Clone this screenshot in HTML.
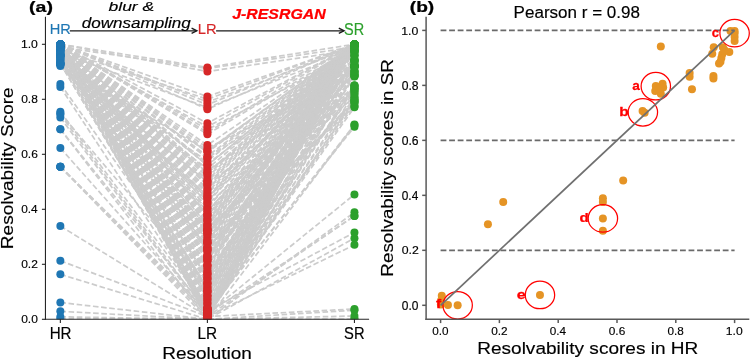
<!DOCTYPE html>
<html><head><meta charset="utf-8"><style>html,body{margin:0;padding:0;background:#fff;width:750px;height:359px;overflow:hidden}</style></head>
<body><svg width="750" height="359" viewBox="0 0 750 359" style="display:block;will-change:transform">
<rect width="750" height="359" fill="#fff"/>
<defs><clipPath id="cl"><rect x="45.45" y="16.7" width="323.6" height="302.6"/></clipPath><clipPath id="cr"><rect x="426" y="16.7" width="324" height="302.5"/></clipPath></defs>
<g clip-path="url(#cl)" fill="none" stroke="#cccccc" stroke-width="1.7" stroke-dasharray="5.6 2.6">
<polyline points="60.35,316.82 207.40,319.30 354.45,310.23"/>
<polyline points="60.35,318.75 207.40,319.30 354.45,316.00"/>
<polyline points="60.35,311.32 207.40,319.30 354.45,319.30"/>
<polyline points="60.35,302.53 207.40,319.30 354.45,319.30"/>
<polyline points="60.35,274.34 207.40,319.30 354.45,238.18"/>
<polyline points="60.35,260.73 207.40,316.55 354.45,215.90"/>
<polyline points="60.35,226.07 207.40,316.55 354.45,308.99"/>
<polyline points="60.35,166.68 207.40,319.30 354.45,212.32"/>
<polyline points="60.35,166.68 207.40,313.80 354.45,215.90"/>
<polyline points="60.35,166.68 207.40,311.05 354.45,232.40"/>
<polyline points="60.35,166.68 207.40,316.55 354.45,244.78"/>
<polyline points="60.35,147.98 207.40,313.80 354.45,194.45"/>
<polyline points="60.35,129.28 207.40,319.30 354.45,124.88"/>
<polyline points="60.35,129.28 207.40,311.05 354.45,126.80"/>
<polyline points="60.35,117.45 207.40,316.55 354.45,100.68"/>
<polyline points="60.35,111.68 207.40,308.30 354.45,97.38"/>
<polyline points="60.35,114.43 207.40,313.80 354.45,107.28"/>
<polyline points="60.35,113.33 207.40,286.30 354.45,60.53"/>
<polyline points="60.35,86.93 207.40,311.05 354.45,86.38"/>
<polyline points="60.35,83.90 207.40,291.80 354.45,91.33"/>
<polyline points="60.35,64.10 207.40,195.55 354.45,88.85"/>
<polyline points="60.35,64.10 207.40,181.80 354.45,93.80"/>
<polyline points="60.35,44.30 207.40,319.30 354.45,44.30"/>
<polyline points="60.35,44.30 207.40,318.01 354.45,44.30"/>
<polyline points="60.35,44.30 207.40,316.61 354.45,44.30"/>
<polyline points="60.35,44.30 207.40,314.25 354.45,44.30"/>
<polyline points="60.35,44.30 207.40,311.86 354.45,44.30"/>
<polyline points="60.35,44.30 207.40,309.04 354.45,44.30"/>
<polyline points="60.35,44.30 207.40,309.14 354.45,44.30"/>
<polyline points="60.35,44.30 207.40,307.19 354.45,44.30"/>
<polyline points="60.35,44.30 207.40,304.66 354.45,44.30"/>
<polyline points="60.35,44.30 207.40,303.08 354.45,44.30"/>
<polyline points="60.35,44.30 207.40,300.36 354.45,44.30"/>
<polyline points="60.35,44.30 207.40,298.98 354.45,44.30"/>
<polyline points="60.35,44.30 207.40,296.20 354.45,44.30"/>
<polyline points="60.35,56.40 207.40,295.14 354.45,44.30"/>
<polyline points="60.35,52.55 207.40,292.56 354.45,55.30"/>
<polyline points="60.35,44.30 207.40,291.71 354.45,44.30"/>
<polyline points="60.35,44.30 207.40,290.12 354.45,44.30"/>
<polyline points="60.35,44.30 207.40,288.38 354.45,44.30"/>
<polyline points="60.35,58.05 207.40,287.15 354.45,44.30"/>
<polyline points="60.35,44.30 207.40,284.06 354.45,44.30"/>
<polyline points="60.35,44.30 207.40,283.37 354.45,44.30"/>
<polyline points="60.35,44.30 207.40,281.55 354.45,44.30"/>
<polyline points="60.35,44.30 207.40,279.17 354.45,47.05"/>
<polyline points="60.35,47.05 207.40,277.71 354.45,44.30"/>
<polyline points="60.35,44.30 207.40,276.01 354.45,44.30"/>
<polyline points="60.35,44.30 207.40,273.33 354.45,74.55"/>
<polyline points="60.35,44.30 207.40,271.67 354.45,66.30"/>
<polyline points="60.35,44.30 207.40,270.54 354.45,44.30"/>
<polyline points="60.35,44.30 207.40,266.73 354.45,44.30"/>
<polyline points="60.35,44.30 207.40,265.33 354.45,60.53"/>
<polyline points="60.35,44.30 207.40,264.82 354.45,44.30"/>
<polyline points="60.35,44.30 207.40,261.14 354.45,44.30"/>
<polyline points="60.35,44.30 207.40,260.67 354.45,44.30"/>
<polyline points="60.35,44.30 207.40,259.39 354.45,44.30"/>
<polyline points="60.35,44.30 207.40,256.69 354.45,44.30"/>
<polyline points="60.35,44.30 207.40,255.72 354.45,44.30"/>
<polyline points="60.35,44.30 207.40,252.16 354.45,71.80"/>
<polyline points="60.35,44.30 207.40,250.13 354.45,44.30"/>
<polyline points="60.35,62.18 207.40,250.30 354.45,63.82"/>
<polyline points="60.35,44.30 207.40,247.42 354.45,44.30"/>
<polyline points="60.35,44.30 207.40,246.64 354.45,44.30"/>
<polyline points="60.35,44.30 207.40,243.38 354.45,44.30"/>
<polyline points="60.35,44.30 207.40,242.16 354.45,44.30"/>
<polyline points="60.35,44.30 207.40,241.12 354.45,44.30"/>
<polyline points="60.35,44.30 207.40,239.15 354.45,44.30"/>
<polyline points="60.35,44.30 207.40,237.26 354.45,44.30"/>
<polyline points="60.35,44.30 207.40,235.36 354.45,44.30"/>
<polyline points="60.35,44.30 207.40,233.21 354.45,58.05"/>
<polyline points="60.35,44.30 207.40,231.02 354.45,44.30"/>
<polyline points="60.35,44.30 207.40,229.36 354.45,44.30"/>
<polyline points="60.35,66.03 207.40,226.19 354.45,44.30"/>
<polyline points="60.35,44.30 207.40,224.88 354.45,44.30"/>
<polyline points="60.35,44.30 207.40,223.55 354.45,44.30"/>
<polyline points="60.35,44.30 207.40,221.70 354.45,44.30"/>
<polyline points="60.35,55.30 207.40,219.68 354.45,50.07"/>
<polyline points="60.35,44.30 207.40,217.89 354.45,44.30"/>
<polyline points="60.35,44.30 207.40,216.06 354.45,44.30"/>
<polyline points="60.35,44.30 207.40,214.66 354.45,44.30"/>
<polyline points="60.35,49.80 207.40,213.31 354.45,44.30"/>
<polyline points="60.35,44.30 207.40,211.61 354.45,44.30"/>
<polyline points="60.35,44.30 207.40,207.71 354.45,44.30"/>
<polyline points="60.35,44.30 207.40,207.72 354.45,44.30"/>
<polyline points="60.35,44.30 207.40,204.41 354.45,76.20"/>
<polyline points="60.35,51.18 207.40,202.83 354.45,44.30"/>
<polyline points="60.35,44.30 207.40,201.37 354.45,44.30"/>
<polyline points="60.35,44.30 207.40,198.63 354.45,44.30"/>
<polyline points="60.35,63.55 207.40,197.95 354.45,44.30"/>
<polyline points="60.35,44.30 207.40,196.60 354.45,44.30"/>
<polyline points="60.35,44.30 207.40,193.72 354.45,52.55"/>
<polyline points="60.35,44.30 207.40,192.09 354.45,44.30"/>
<polyline points="60.35,44.30 207.40,189.73 354.45,44.30"/>
<polyline points="60.35,44.30 207.40,188.79 354.45,44.30"/>
<polyline points="60.35,44.30 207.40,185.65 354.45,67.12"/>
<polyline points="60.35,55.58 207.40,184.76 354.45,44.30"/>
<polyline points="60.35,44.30 207.40,183.48 354.45,44.30"/>
<polyline points="60.35,44.30 207.40,181.28 354.45,44.30"/>
<polyline points="60.35,44.30 207.40,179.77 354.45,44.30"/>
<polyline points="60.35,44.30 207.40,177.09 354.45,44.30"/>
<polyline points="60.35,44.30 207.40,174.87 354.45,44.30"/>
<polyline points="60.35,44.30 207.40,173.14 354.45,44.30"/>
<polyline points="60.35,53.93 207.40,172.51 354.45,44.30"/>
<polyline points="60.35,44.30 207.40,170.64 354.45,69.60"/>
<polyline points="60.35,59.43 207.40,168.78 354.45,44.30"/>
<polyline points="60.35,44.30 207.40,165.40 354.45,44.30"/>
<polyline points="60.35,48.43 207.40,165.12 354.45,44.30"/>
<polyline points="60.35,44.30 207.40,163.44 354.45,59.70"/>
<polyline points="60.35,60.80 207.40,161.12 354.45,44.30"/>
<polyline points="60.35,44.30 207.40,158.08 354.45,44.30"/>
<polyline points="60.35,44.30 207.40,158.12 354.45,63.55"/>
<polyline points="60.35,44.30 207.40,156.22 354.45,44.30"/>
<polyline points="60.35,44.30 207.40,152.37 354.45,44.30"/>
<polyline points="60.35,64.93 207.40,150.87 354.45,44.30"/>
<polyline points="60.35,44.30 207.40,150.59 354.45,44.30"/>
<polyline points="60.35,44.30 207.40,147.96 354.45,76.48"/>
<polyline points="60.35,44.30 207.40,145.11 354.45,44.30"/>
<polyline points="60.35,44.30 207.40,67.40 354.45,44.30"/>
<polyline points="60.35,47.05 207.40,68.50 354.45,47.05"/>
<polyline points="60.35,44.30 207.40,71.53 354.45,49.80"/>
<polyline points="60.35,44.30 207.40,96.55 354.45,44.30"/>
<polyline points="60.35,49.80 207.40,99.30 354.45,44.30"/>
<polyline points="60.35,44.30 207.40,102.05 354.45,47.05"/>
<polyline points="60.35,44.30 207.40,104.80 354.45,44.30"/>
<polyline points="60.35,52.55 207.40,107.55 354.45,49.80"/>
<polyline points="60.35,44.30 207.40,109.20 354.45,44.30"/>
<polyline points="60.35,44.30 207.40,123.23 354.45,44.30"/>
<polyline points="60.35,47.05 207.40,126.80 354.45,44.30"/>
<polyline points="60.35,44.30 207.40,129.55 354.45,52.55"/>
<polyline points="60.35,44.30 207.40,132.30 354.45,44.30"/>
<polyline points="60.35,44.30 207.40,134.22 354.45,47.05"/>
<polyline points="60.35,44.30 207.40,259.35 354.45,99.30"/>
<polyline points="60.35,49.80 207.40,247.90 354.45,102.05"/>
<polyline points="60.35,44.30 207.40,242.76 354.45,106.18"/>
<polyline points="60.35,55.30 207.40,228.59 354.45,85.55"/>
<polyline points="60.35,44.30 207.40,248.08 354.45,91.05"/>
<polyline points="60.35,64.10 207.40,230.53 354.45,89.68"/>
<polyline points="60.35,58.05 207.40,316.51 354.45,75.93"/>
<polyline points="60.35,44.30 207.40,274.48 354.45,85.55"/>
<polyline points="60.35,47.05 207.40,228.50 354.45,96.55"/>
<polyline points="60.35,44.30 207.40,256.84 354.45,102.05"/>
<polyline points="60.35,63.55 207.40,232.59 354.45,88.30"/>
<polyline points="60.35,55.30 207.40,308.40 354.45,74.55"/>
<polyline points="60.35,44.30 207.40,313.17 354.45,66.30"/>
<polyline points="60.35,55.30 207.40,308.89 354.45,55.30"/>
<polyline points="60.35,44.30 207.40,302.83 354.45,71.80"/>
<polyline points="60.35,49.80 207.40,298.85 354.45,47.05"/>
<polyline points="60.35,44.30 207.40,295.50 354.45,44.30"/>
<polyline points="60.35,49.80 207.40,290.34 354.45,66.30"/>
<polyline points="60.35,44.30 207.40,283.30 354.45,50.90"/>
<polyline points="60.35,47.05 207.40,278.58 354.45,66.30"/>
<polyline points="60.35,44.30 207.40,273.86 354.45,60.80"/>
<polyline points="60.35,55.30 207.40,268.52 354.45,44.30"/>
<polyline points="60.35,44.30 207.40,265.18 354.45,44.30"/>
<polyline points="60.35,44.30 207.40,258.04 354.45,44.30"/>
<polyline points="60.35,44.30 207.40,255.20 354.45,71.80"/>
<polyline points="60.35,55.30 207.40,249.44 354.45,60.80"/>
<polyline points="60.35,44.30 207.40,243.59 354.45,47.05"/>
<polyline points="60.35,47.05 207.40,240.56 354.45,50.90"/>
<polyline points="60.35,44.30 207.40,233.61 354.45,50.90"/>
<polyline points="60.35,55.30 207.40,230.45 354.45,44.30"/>
<polyline points="60.35,47.05 207.40,225.22 354.45,66.30"/>
<polyline points="60.35,44.30 207.40,219.94 354.45,66.30"/>
<polyline points="60.35,47.05 207.40,214.88 354.45,66.30"/>
<polyline points="60.35,47.05 207.40,210.07 354.45,66.30"/>
<polyline points="60.35,44.30 207.40,313.03 354.45,124.60"/>
<polyline points="60.35,55.30 207.40,312.35 354.45,104.80"/>
<polyline points="60.35,63.55 207.40,310.31 354.45,102.05"/>
<polyline points="60.35,44.30 207.40,316.25 354.45,99.30"/>
<polyline points="60.35,52.55 207.40,312.13 354.45,93.80"/>
<polyline points="60.35,44.30 207.40,309.50 354.45,88.30"/>
<polyline points="60.35,49.80 207.40,309.30 354.45,85.55"/>
<polyline points="60.35,47.05 207.40,317.25 354.45,74.55"/>
<polyline points="60.35,44.30 207.40,312.13 354.45,71.80"/>
<polyline points="60.35,60.80 207.40,312.51 354.45,66.30"/>
<polyline points="60.35,44.30 207.40,313.76 354.45,60.80"/>
<polyline points="60.35,47.05 207.40,308.67 354.45,55.30"/>
<polyline points="60.35,58.05 207.40,313.49 354.45,49.80"/>
<polyline points="60.35,44.30 207.40,314.40 354.45,44.30"/>
<polyline points="60.35,63.55 207.40,308.92 354.45,44.30"/>
<polyline points="60.35,44.30 207.40,312.31 354.45,45.68"/>
</g>
<g clip-path="url(#cl)">
<circle cx="60.35" cy="316.82" r="4" fill="#1f77b4"/>
<circle cx="60.35" cy="318.75" r="4" fill="#1f77b4"/>
<circle cx="60.35" cy="311.32" r="4" fill="#1f77b4"/>
<circle cx="60.35" cy="302.53" r="4" fill="#1f77b4"/>
<circle cx="60.35" cy="274.34" r="4" fill="#1f77b4"/>
<circle cx="60.35" cy="260.73" r="4" fill="#1f77b4"/>
<circle cx="60.35" cy="226.07" r="4" fill="#1f77b4"/>
<circle cx="60.35" cy="166.68" r="4" fill="#1f77b4"/>
<circle cx="60.35" cy="166.68" r="4" fill="#1f77b4"/>
<circle cx="60.35" cy="166.68" r="4" fill="#1f77b4"/>
<circle cx="60.35" cy="166.68" r="4" fill="#1f77b4"/>
<circle cx="60.35" cy="147.98" r="4" fill="#1f77b4"/>
<circle cx="60.35" cy="129.28" r="4" fill="#1f77b4"/>
<circle cx="60.35" cy="129.28" r="4" fill="#1f77b4"/>
<circle cx="60.35" cy="117.45" r="4" fill="#1f77b4"/>
<circle cx="60.35" cy="111.68" r="4" fill="#1f77b4"/>
<circle cx="60.35" cy="114.43" r="4" fill="#1f77b4"/>
<circle cx="60.35" cy="113.33" r="4" fill="#1f77b4"/>
<circle cx="60.35" cy="86.93" r="4" fill="#1f77b4"/>
<circle cx="60.35" cy="83.90" r="4" fill="#1f77b4"/>
<circle cx="60.35" cy="64.10" r="4" fill="#1f77b4"/>
<circle cx="60.35" cy="64.10" r="4" fill="#1f77b4"/>
<circle cx="60.35" cy="44.30" r="4" fill="#1f77b4"/>
<circle cx="60.35" cy="44.30" r="4" fill="#1f77b4"/>
<circle cx="60.35" cy="44.30" r="4" fill="#1f77b4"/>
<circle cx="60.35" cy="44.30" r="4" fill="#1f77b4"/>
<circle cx="60.35" cy="44.30" r="4" fill="#1f77b4"/>
<circle cx="60.35" cy="44.30" r="4" fill="#1f77b4"/>
<circle cx="60.35" cy="44.30" r="4" fill="#1f77b4"/>
<circle cx="60.35" cy="44.30" r="4" fill="#1f77b4"/>
<circle cx="60.35" cy="44.30" r="4" fill="#1f77b4"/>
<circle cx="60.35" cy="44.30" r="4" fill="#1f77b4"/>
<circle cx="60.35" cy="44.30" r="4" fill="#1f77b4"/>
<circle cx="60.35" cy="44.30" r="4" fill="#1f77b4"/>
<circle cx="60.35" cy="44.30" r="4" fill="#1f77b4"/>
<circle cx="60.35" cy="56.40" r="4" fill="#1f77b4"/>
<circle cx="60.35" cy="52.55" r="4" fill="#1f77b4"/>
<circle cx="60.35" cy="44.30" r="4" fill="#1f77b4"/>
<circle cx="60.35" cy="44.30" r="4" fill="#1f77b4"/>
<circle cx="60.35" cy="44.30" r="4" fill="#1f77b4"/>
<circle cx="60.35" cy="58.05" r="4" fill="#1f77b4"/>
<circle cx="60.35" cy="44.30" r="4" fill="#1f77b4"/>
<circle cx="60.35" cy="44.30" r="4" fill="#1f77b4"/>
<circle cx="60.35" cy="44.30" r="4" fill="#1f77b4"/>
<circle cx="60.35" cy="44.30" r="4" fill="#1f77b4"/>
<circle cx="60.35" cy="47.05" r="4" fill="#1f77b4"/>
<circle cx="60.35" cy="44.30" r="4" fill="#1f77b4"/>
<circle cx="60.35" cy="44.30" r="4" fill="#1f77b4"/>
<circle cx="60.35" cy="44.30" r="4" fill="#1f77b4"/>
<circle cx="60.35" cy="44.30" r="4" fill="#1f77b4"/>
<circle cx="60.35" cy="44.30" r="4" fill="#1f77b4"/>
<circle cx="60.35" cy="44.30" r="4" fill="#1f77b4"/>
<circle cx="60.35" cy="44.30" r="4" fill="#1f77b4"/>
<circle cx="60.35" cy="44.30" r="4" fill="#1f77b4"/>
<circle cx="60.35" cy="44.30" r="4" fill="#1f77b4"/>
<circle cx="60.35" cy="44.30" r="4" fill="#1f77b4"/>
<circle cx="60.35" cy="44.30" r="4" fill="#1f77b4"/>
<circle cx="60.35" cy="44.30" r="4" fill="#1f77b4"/>
<circle cx="60.35" cy="44.30" r="4" fill="#1f77b4"/>
<circle cx="60.35" cy="44.30" r="4" fill="#1f77b4"/>
<circle cx="60.35" cy="62.18" r="4" fill="#1f77b4"/>
<circle cx="60.35" cy="44.30" r="4" fill="#1f77b4"/>
<circle cx="60.35" cy="44.30" r="4" fill="#1f77b4"/>
<circle cx="60.35" cy="44.30" r="4" fill="#1f77b4"/>
<circle cx="60.35" cy="44.30" r="4" fill="#1f77b4"/>
<circle cx="60.35" cy="44.30" r="4" fill="#1f77b4"/>
<circle cx="60.35" cy="44.30" r="4" fill="#1f77b4"/>
<circle cx="60.35" cy="44.30" r="4" fill="#1f77b4"/>
<circle cx="60.35" cy="44.30" r="4" fill="#1f77b4"/>
<circle cx="60.35" cy="44.30" r="4" fill="#1f77b4"/>
<circle cx="60.35" cy="44.30" r="4" fill="#1f77b4"/>
<circle cx="60.35" cy="44.30" r="4" fill="#1f77b4"/>
<circle cx="60.35" cy="66.03" r="4" fill="#1f77b4"/>
<circle cx="60.35" cy="44.30" r="4" fill="#1f77b4"/>
<circle cx="60.35" cy="44.30" r="4" fill="#1f77b4"/>
<circle cx="60.35" cy="44.30" r="4" fill="#1f77b4"/>
<circle cx="60.35" cy="55.30" r="4" fill="#1f77b4"/>
<circle cx="60.35" cy="44.30" r="4" fill="#1f77b4"/>
<circle cx="60.35" cy="44.30" r="4" fill="#1f77b4"/>
<circle cx="60.35" cy="44.30" r="4" fill="#1f77b4"/>
<circle cx="60.35" cy="49.80" r="4" fill="#1f77b4"/>
<circle cx="60.35" cy="44.30" r="4" fill="#1f77b4"/>
<circle cx="60.35" cy="44.30" r="4" fill="#1f77b4"/>
<circle cx="60.35" cy="44.30" r="4" fill="#1f77b4"/>
<circle cx="60.35" cy="44.30" r="4" fill="#1f77b4"/>
<circle cx="60.35" cy="51.18" r="4" fill="#1f77b4"/>
<circle cx="60.35" cy="44.30" r="4" fill="#1f77b4"/>
<circle cx="60.35" cy="44.30" r="4" fill="#1f77b4"/>
<circle cx="60.35" cy="63.55" r="4" fill="#1f77b4"/>
<circle cx="60.35" cy="44.30" r="4" fill="#1f77b4"/>
<circle cx="60.35" cy="44.30" r="4" fill="#1f77b4"/>
<circle cx="60.35" cy="44.30" r="4" fill="#1f77b4"/>
<circle cx="60.35" cy="44.30" r="4" fill="#1f77b4"/>
<circle cx="60.35" cy="44.30" r="4" fill="#1f77b4"/>
<circle cx="60.35" cy="44.30" r="4" fill="#1f77b4"/>
<circle cx="60.35" cy="55.58" r="4" fill="#1f77b4"/>
<circle cx="60.35" cy="44.30" r="4" fill="#1f77b4"/>
<circle cx="60.35" cy="44.30" r="4" fill="#1f77b4"/>
<circle cx="60.35" cy="44.30" r="4" fill="#1f77b4"/>
<circle cx="60.35" cy="44.30" r="4" fill="#1f77b4"/>
<circle cx="60.35" cy="44.30" r="4" fill="#1f77b4"/>
<circle cx="60.35" cy="44.30" r="4" fill="#1f77b4"/>
<circle cx="60.35" cy="53.93" r="4" fill="#1f77b4"/>
<circle cx="60.35" cy="44.30" r="4" fill="#1f77b4"/>
<circle cx="60.35" cy="59.43" r="4" fill="#1f77b4"/>
<circle cx="60.35" cy="44.30" r="4" fill="#1f77b4"/>
<circle cx="60.35" cy="48.43" r="4" fill="#1f77b4"/>
<circle cx="60.35" cy="44.30" r="4" fill="#1f77b4"/>
<circle cx="60.35" cy="60.80" r="4" fill="#1f77b4"/>
<circle cx="60.35" cy="44.30" r="4" fill="#1f77b4"/>
<circle cx="60.35" cy="44.30" r="4" fill="#1f77b4"/>
<circle cx="60.35" cy="44.30" r="4" fill="#1f77b4"/>
<circle cx="60.35" cy="44.30" r="4" fill="#1f77b4"/>
<circle cx="60.35" cy="64.93" r="4" fill="#1f77b4"/>
<circle cx="60.35" cy="44.30" r="4" fill="#1f77b4"/>
<circle cx="60.35" cy="44.30" r="4" fill="#1f77b4"/>
<circle cx="60.35" cy="44.30" r="4" fill="#1f77b4"/>
<circle cx="60.35" cy="44.30" r="4" fill="#1f77b4"/>
<circle cx="60.35" cy="47.05" r="4" fill="#1f77b4"/>
<circle cx="60.35" cy="44.30" r="4" fill="#1f77b4"/>
<circle cx="60.35" cy="44.30" r="4" fill="#1f77b4"/>
<circle cx="60.35" cy="49.80" r="4" fill="#1f77b4"/>
<circle cx="60.35" cy="44.30" r="4" fill="#1f77b4"/>
<circle cx="60.35" cy="44.30" r="4" fill="#1f77b4"/>
<circle cx="60.35" cy="52.55" r="4" fill="#1f77b4"/>
<circle cx="60.35" cy="44.30" r="4" fill="#1f77b4"/>
<circle cx="60.35" cy="44.30" r="4" fill="#1f77b4"/>
<circle cx="60.35" cy="47.05" r="4" fill="#1f77b4"/>
<circle cx="60.35" cy="44.30" r="4" fill="#1f77b4"/>
<circle cx="60.35" cy="44.30" r="4" fill="#1f77b4"/>
<circle cx="60.35" cy="44.30" r="4" fill="#1f77b4"/>
<circle cx="60.35" cy="44.30" r="4" fill="#1f77b4"/>
<circle cx="60.35" cy="49.80" r="4" fill="#1f77b4"/>
<circle cx="60.35" cy="44.30" r="4" fill="#1f77b4"/>
<circle cx="60.35" cy="55.30" r="4" fill="#1f77b4"/>
<circle cx="60.35" cy="44.30" r="4" fill="#1f77b4"/>
<circle cx="60.35" cy="64.10" r="4" fill="#1f77b4"/>
<circle cx="60.35" cy="58.05" r="4" fill="#1f77b4"/>
<circle cx="60.35" cy="44.30" r="4" fill="#1f77b4"/>
<circle cx="60.35" cy="47.05" r="4" fill="#1f77b4"/>
<circle cx="60.35" cy="44.30" r="4" fill="#1f77b4"/>
<circle cx="60.35" cy="63.55" r="4" fill="#1f77b4"/>
<circle cx="60.35" cy="55.30" r="4" fill="#1f77b4"/>
<circle cx="60.35" cy="44.30" r="4" fill="#1f77b4"/>
<circle cx="60.35" cy="55.30" r="4" fill="#1f77b4"/>
<circle cx="60.35" cy="44.30" r="4" fill="#1f77b4"/>
<circle cx="60.35" cy="49.80" r="4" fill="#1f77b4"/>
<circle cx="60.35" cy="44.30" r="4" fill="#1f77b4"/>
<circle cx="60.35" cy="49.80" r="4" fill="#1f77b4"/>
<circle cx="60.35" cy="44.30" r="4" fill="#1f77b4"/>
<circle cx="60.35" cy="47.05" r="4" fill="#1f77b4"/>
<circle cx="60.35" cy="44.30" r="4" fill="#1f77b4"/>
<circle cx="60.35" cy="55.30" r="4" fill="#1f77b4"/>
<circle cx="60.35" cy="44.30" r="4" fill="#1f77b4"/>
<circle cx="60.35" cy="44.30" r="4" fill="#1f77b4"/>
<circle cx="60.35" cy="44.30" r="4" fill="#1f77b4"/>
<circle cx="60.35" cy="55.30" r="4" fill="#1f77b4"/>
<circle cx="60.35" cy="44.30" r="4" fill="#1f77b4"/>
<circle cx="60.35" cy="47.05" r="4" fill="#1f77b4"/>
<circle cx="60.35" cy="44.30" r="4" fill="#1f77b4"/>
<circle cx="60.35" cy="55.30" r="4" fill="#1f77b4"/>
<circle cx="60.35" cy="47.05" r="4" fill="#1f77b4"/>
<circle cx="60.35" cy="44.30" r="4" fill="#1f77b4"/>
<circle cx="60.35" cy="47.05" r="4" fill="#1f77b4"/>
<circle cx="60.35" cy="47.05" r="4" fill="#1f77b4"/>
<circle cx="60.35" cy="44.30" r="4" fill="#1f77b4"/>
<circle cx="60.35" cy="55.30" r="4" fill="#1f77b4"/>
<circle cx="60.35" cy="63.55" r="4" fill="#1f77b4"/>
<circle cx="60.35" cy="44.30" r="4" fill="#1f77b4"/>
<circle cx="60.35" cy="52.55" r="4" fill="#1f77b4"/>
<circle cx="60.35" cy="44.30" r="4" fill="#1f77b4"/>
<circle cx="60.35" cy="49.80" r="4" fill="#1f77b4"/>
<circle cx="60.35" cy="47.05" r="4" fill="#1f77b4"/>
<circle cx="60.35" cy="44.30" r="4" fill="#1f77b4"/>
<circle cx="60.35" cy="60.80" r="4" fill="#1f77b4"/>
<circle cx="60.35" cy="44.30" r="4" fill="#1f77b4"/>
<circle cx="60.35" cy="47.05" r="4" fill="#1f77b4"/>
<circle cx="60.35" cy="58.05" r="4" fill="#1f77b4"/>
<circle cx="60.35" cy="44.30" r="4" fill="#1f77b4"/>
<circle cx="60.35" cy="63.55" r="4" fill="#1f77b4"/>
<circle cx="60.35" cy="44.30" r="4" fill="#1f77b4"/>
<circle cx="207.40" cy="319.30" r="4" fill="#d62728"/>
<circle cx="207.40" cy="319.30" r="4" fill="#d62728"/>
<circle cx="207.40" cy="319.30" r="4" fill="#d62728"/>
<circle cx="207.40" cy="319.30" r="4" fill="#d62728"/>
<circle cx="207.40" cy="319.30" r="4" fill="#d62728"/>
<circle cx="207.40" cy="316.55" r="4" fill="#d62728"/>
<circle cx="207.40" cy="316.55" r="4" fill="#d62728"/>
<circle cx="207.40" cy="319.30" r="4" fill="#d62728"/>
<circle cx="207.40" cy="313.80" r="4" fill="#d62728"/>
<circle cx="207.40" cy="311.05" r="4" fill="#d62728"/>
<circle cx="207.40" cy="316.55" r="4" fill="#d62728"/>
<circle cx="207.40" cy="313.80" r="4" fill="#d62728"/>
<circle cx="207.40" cy="319.30" r="4" fill="#d62728"/>
<circle cx="207.40" cy="311.05" r="4" fill="#d62728"/>
<circle cx="207.40" cy="316.55" r="4" fill="#d62728"/>
<circle cx="207.40" cy="308.30" r="4" fill="#d62728"/>
<circle cx="207.40" cy="313.80" r="4" fill="#d62728"/>
<circle cx="207.40" cy="286.30" r="4" fill="#d62728"/>
<circle cx="207.40" cy="311.05" r="4" fill="#d62728"/>
<circle cx="207.40" cy="291.80" r="4" fill="#d62728"/>
<circle cx="207.40" cy="195.55" r="4" fill="#d62728"/>
<circle cx="207.40" cy="181.80" r="4" fill="#d62728"/>
<circle cx="207.40" cy="319.30" r="4" fill="#d62728"/>
<circle cx="207.40" cy="318.01" r="4" fill="#d62728"/>
<circle cx="207.40" cy="316.61" r="4" fill="#d62728"/>
<circle cx="207.40" cy="314.25" r="4" fill="#d62728"/>
<circle cx="207.40" cy="311.86" r="4" fill="#d62728"/>
<circle cx="207.40" cy="309.04" r="4" fill="#d62728"/>
<circle cx="207.40" cy="309.14" r="4" fill="#d62728"/>
<circle cx="207.40" cy="307.19" r="4" fill="#d62728"/>
<circle cx="207.40" cy="304.66" r="4" fill="#d62728"/>
<circle cx="207.40" cy="303.08" r="4" fill="#d62728"/>
<circle cx="207.40" cy="300.36" r="4" fill="#d62728"/>
<circle cx="207.40" cy="298.98" r="4" fill="#d62728"/>
<circle cx="207.40" cy="296.20" r="4" fill="#d62728"/>
<circle cx="207.40" cy="295.14" r="4" fill="#d62728"/>
<circle cx="207.40" cy="292.56" r="4" fill="#d62728"/>
<circle cx="207.40" cy="291.71" r="4" fill="#d62728"/>
<circle cx="207.40" cy="290.12" r="4" fill="#d62728"/>
<circle cx="207.40" cy="288.38" r="4" fill="#d62728"/>
<circle cx="207.40" cy="287.15" r="4" fill="#d62728"/>
<circle cx="207.40" cy="284.06" r="4" fill="#d62728"/>
<circle cx="207.40" cy="283.37" r="4" fill="#d62728"/>
<circle cx="207.40" cy="281.55" r="4" fill="#d62728"/>
<circle cx="207.40" cy="279.17" r="4" fill="#d62728"/>
<circle cx="207.40" cy="277.71" r="4" fill="#d62728"/>
<circle cx="207.40" cy="276.01" r="4" fill="#d62728"/>
<circle cx="207.40" cy="273.33" r="4" fill="#d62728"/>
<circle cx="207.40" cy="271.67" r="4" fill="#d62728"/>
<circle cx="207.40" cy="270.54" r="4" fill="#d62728"/>
<circle cx="207.40" cy="266.73" r="4" fill="#d62728"/>
<circle cx="207.40" cy="265.33" r="4" fill="#d62728"/>
<circle cx="207.40" cy="264.82" r="4" fill="#d62728"/>
<circle cx="207.40" cy="261.14" r="4" fill="#d62728"/>
<circle cx="207.40" cy="260.67" r="4" fill="#d62728"/>
<circle cx="207.40" cy="259.39" r="4" fill="#d62728"/>
<circle cx="207.40" cy="256.69" r="4" fill="#d62728"/>
<circle cx="207.40" cy="255.72" r="4" fill="#d62728"/>
<circle cx="207.40" cy="252.16" r="4" fill="#d62728"/>
<circle cx="207.40" cy="250.13" r="4" fill="#d62728"/>
<circle cx="207.40" cy="250.30" r="4" fill="#d62728"/>
<circle cx="207.40" cy="247.42" r="4" fill="#d62728"/>
<circle cx="207.40" cy="246.64" r="4" fill="#d62728"/>
<circle cx="207.40" cy="243.38" r="4" fill="#d62728"/>
<circle cx="207.40" cy="242.16" r="4" fill="#d62728"/>
<circle cx="207.40" cy="241.12" r="4" fill="#d62728"/>
<circle cx="207.40" cy="239.15" r="4" fill="#d62728"/>
<circle cx="207.40" cy="237.26" r="4" fill="#d62728"/>
<circle cx="207.40" cy="235.36" r="4" fill="#d62728"/>
<circle cx="207.40" cy="233.21" r="4" fill="#d62728"/>
<circle cx="207.40" cy="231.02" r="4" fill="#d62728"/>
<circle cx="207.40" cy="229.36" r="4" fill="#d62728"/>
<circle cx="207.40" cy="226.19" r="4" fill="#d62728"/>
<circle cx="207.40" cy="224.88" r="4" fill="#d62728"/>
<circle cx="207.40" cy="223.55" r="4" fill="#d62728"/>
<circle cx="207.40" cy="221.70" r="4" fill="#d62728"/>
<circle cx="207.40" cy="219.68" r="4" fill="#d62728"/>
<circle cx="207.40" cy="217.89" r="4" fill="#d62728"/>
<circle cx="207.40" cy="216.06" r="4" fill="#d62728"/>
<circle cx="207.40" cy="214.66" r="4" fill="#d62728"/>
<circle cx="207.40" cy="213.31" r="4" fill="#d62728"/>
<circle cx="207.40" cy="211.61" r="4" fill="#d62728"/>
<circle cx="207.40" cy="207.71" r="4" fill="#d62728"/>
<circle cx="207.40" cy="207.72" r="4" fill="#d62728"/>
<circle cx="207.40" cy="204.41" r="4" fill="#d62728"/>
<circle cx="207.40" cy="202.83" r="4" fill="#d62728"/>
<circle cx="207.40" cy="201.37" r="4" fill="#d62728"/>
<circle cx="207.40" cy="198.63" r="4" fill="#d62728"/>
<circle cx="207.40" cy="197.95" r="4" fill="#d62728"/>
<circle cx="207.40" cy="196.60" r="4" fill="#d62728"/>
<circle cx="207.40" cy="193.72" r="4" fill="#d62728"/>
<circle cx="207.40" cy="192.09" r="4" fill="#d62728"/>
<circle cx="207.40" cy="189.73" r="4" fill="#d62728"/>
<circle cx="207.40" cy="188.79" r="4" fill="#d62728"/>
<circle cx="207.40" cy="185.65" r="4" fill="#d62728"/>
<circle cx="207.40" cy="184.76" r="4" fill="#d62728"/>
<circle cx="207.40" cy="183.48" r="4" fill="#d62728"/>
<circle cx="207.40" cy="181.28" r="4" fill="#d62728"/>
<circle cx="207.40" cy="179.77" r="4" fill="#d62728"/>
<circle cx="207.40" cy="177.09" r="4" fill="#d62728"/>
<circle cx="207.40" cy="174.87" r="4" fill="#d62728"/>
<circle cx="207.40" cy="173.14" r="4" fill="#d62728"/>
<circle cx="207.40" cy="172.51" r="4" fill="#d62728"/>
<circle cx="207.40" cy="170.64" r="4" fill="#d62728"/>
<circle cx="207.40" cy="168.78" r="4" fill="#d62728"/>
<circle cx="207.40" cy="165.40" r="4" fill="#d62728"/>
<circle cx="207.40" cy="165.12" r="4" fill="#d62728"/>
<circle cx="207.40" cy="163.44" r="4" fill="#d62728"/>
<circle cx="207.40" cy="161.12" r="4" fill="#d62728"/>
<circle cx="207.40" cy="158.08" r="4" fill="#d62728"/>
<circle cx="207.40" cy="158.12" r="4" fill="#d62728"/>
<circle cx="207.40" cy="156.22" r="4" fill="#d62728"/>
<circle cx="207.40" cy="152.37" r="4" fill="#d62728"/>
<circle cx="207.40" cy="150.87" r="4" fill="#d62728"/>
<circle cx="207.40" cy="150.59" r="4" fill="#d62728"/>
<circle cx="207.40" cy="147.96" r="4" fill="#d62728"/>
<circle cx="207.40" cy="145.11" r="4" fill="#d62728"/>
<circle cx="207.40" cy="67.40" r="4" fill="#d62728"/>
<circle cx="207.40" cy="68.50" r="4" fill="#d62728"/>
<circle cx="207.40" cy="71.53" r="4" fill="#d62728"/>
<circle cx="207.40" cy="96.55" r="4" fill="#d62728"/>
<circle cx="207.40" cy="99.30" r="4" fill="#d62728"/>
<circle cx="207.40" cy="102.05" r="4" fill="#d62728"/>
<circle cx="207.40" cy="104.80" r="4" fill="#d62728"/>
<circle cx="207.40" cy="107.55" r="4" fill="#d62728"/>
<circle cx="207.40" cy="109.20" r="4" fill="#d62728"/>
<circle cx="207.40" cy="123.23" r="4" fill="#d62728"/>
<circle cx="207.40" cy="126.80" r="4" fill="#d62728"/>
<circle cx="207.40" cy="129.55" r="4" fill="#d62728"/>
<circle cx="207.40" cy="132.30" r="4" fill="#d62728"/>
<circle cx="207.40" cy="134.22" r="4" fill="#d62728"/>
<circle cx="207.40" cy="259.35" r="4" fill="#d62728"/>
<circle cx="207.40" cy="247.90" r="4" fill="#d62728"/>
<circle cx="207.40" cy="242.76" r="4" fill="#d62728"/>
<circle cx="207.40" cy="228.59" r="4" fill="#d62728"/>
<circle cx="207.40" cy="248.08" r="4" fill="#d62728"/>
<circle cx="207.40" cy="230.53" r="4" fill="#d62728"/>
<circle cx="207.40" cy="316.51" r="4" fill="#d62728"/>
<circle cx="207.40" cy="274.48" r="4" fill="#d62728"/>
<circle cx="207.40" cy="228.50" r="4" fill="#d62728"/>
<circle cx="207.40" cy="256.84" r="4" fill="#d62728"/>
<circle cx="207.40" cy="232.59" r="4" fill="#d62728"/>
<circle cx="207.40" cy="308.40" r="4" fill="#d62728"/>
<circle cx="207.40" cy="313.17" r="4" fill="#d62728"/>
<circle cx="207.40" cy="308.89" r="4" fill="#d62728"/>
<circle cx="207.40" cy="302.83" r="4" fill="#d62728"/>
<circle cx="207.40" cy="298.85" r="4" fill="#d62728"/>
<circle cx="207.40" cy="295.50" r="4" fill="#d62728"/>
<circle cx="207.40" cy="290.34" r="4" fill="#d62728"/>
<circle cx="207.40" cy="283.30" r="4" fill="#d62728"/>
<circle cx="207.40" cy="278.58" r="4" fill="#d62728"/>
<circle cx="207.40" cy="273.86" r="4" fill="#d62728"/>
<circle cx="207.40" cy="268.52" r="4" fill="#d62728"/>
<circle cx="207.40" cy="265.18" r="4" fill="#d62728"/>
<circle cx="207.40" cy="258.04" r="4" fill="#d62728"/>
<circle cx="207.40" cy="255.20" r="4" fill="#d62728"/>
<circle cx="207.40" cy="249.44" r="4" fill="#d62728"/>
<circle cx="207.40" cy="243.59" r="4" fill="#d62728"/>
<circle cx="207.40" cy="240.56" r="4" fill="#d62728"/>
<circle cx="207.40" cy="233.61" r="4" fill="#d62728"/>
<circle cx="207.40" cy="230.45" r="4" fill="#d62728"/>
<circle cx="207.40" cy="225.22" r="4" fill="#d62728"/>
<circle cx="207.40" cy="219.94" r="4" fill="#d62728"/>
<circle cx="207.40" cy="214.88" r="4" fill="#d62728"/>
<circle cx="207.40" cy="210.07" r="4" fill="#d62728"/>
<circle cx="207.40" cy="313.03" r="4" fill="#d62728"/>
<circle cx="207.40" cy="312.35" r="4" fill="#d62728"/>
<circle cx="207.40" cy="310.31" r="4" fill="#d62728"/>
<circle cx="207.40" cy="316.25" r="4" fill="#d62728"/>
<circle cx="207.40" cy="312.13" r="4" fill="#d62728"/>
<circle cx="207.40" cy="309.50" r="4" fill="#d62728"/>
<circle cx="207.40" cy="309.30" r="4" fill="#d62728"/>
<circle cx="207.40" cy="317.25" r="4" fill="#d62728"/>
<circle cx="207.40" cy="312.13" r="4" fill="#d62728"/>
<circle cx="207.40" cy="312.51" r="4" fill="#d62728"/>
<circle cx="207.40" cy="313.76" r="4" fill="#d62728"/>
<circle cx="207.40" cy="308.67" r="4" fill="#d62728"/>
<circle cx="207.40" cy="313.49" r="4" fill="#d62728"/>
<circle cx="207.40" cy="314.40" r="4" fill="#d62728"/>
<circle cx="207.40" cy="308.92" r="4" fill="#d62728"/>
<circle cx="207.40" cy="312.31" r="4" fill="#d62728"/>
<circle cx="354.45" cy="310.23" r="4" fill="#2ca02c"/>
<circle cx="354.45" cy="316.00" r="4" fill="#2ca02c"/>
<circle cx="354.45" cy="319.30" r="4" fill="#2ca02c"/>
<circle cx="354.45" cy="319.30" r="4" fill="#2ca02c"/>
<circle cx="354.45" cy="238.18" r="4" fill="#2ca02c"/>
<circle cx="354.45" cy="215.90" r="4" fill="#2ca02c"/>
<circle cx="354.45" cy="308.99" r="4" fill="#2ca02c"/>
<circle cx="354.45" cy="212.32" r="4" fill="#2ca02c"/>
<circle cx="354.45" cy="215.90" r="4" fill="#2ca02c"/>
<circle cx="354.45" cy="232.40" r="4" fill="#2ca02c"/>
<circle cx="354.45" cy="244.78" r="4" fill="#2ca02c"/>
<circle cx="354.45" cy="194.45" r="4" fill="#2ca02c"/>
<circle cx="354.45" cy="124.88" r="4" fill="#2ca02c"/>
<circle cx="354.45" cy="126.80" r="4" fill="#2ca02c"/>
<circle cx="354.45" cy="100.68" r="4" fill="#2ca02c"/>
<circle cx="354.45" cy="97.38" r="4" fill="#2ca02c"/>
<circle cx="354.45" cy="107.28" r="4" fill="#2ca02c"/>
<circle cx="354.45" cy="60.53" r="4" fill="#2ca02c"/>
<circle cx="354.45" cy="86.38" r="4" fill="#2ca02c"/>
<circle cx="354.45" cy="91.33" r="4" fill="#2ca02c"/>
<circle cx="354.45" cy="88.85" r="4" fill="#2ca02c"/>
<circle cx="354.45" cy="93.80" r="4" fill="#2ca02c"/>
<circle cx="354.45" cy="44.30" r="4" fill="#2ca02c"/>
<circle cx="354.45" cy="44.30" r="4" fill="#2ca02c"/>
<circle cx="354.45" cy="44.30" r="4" fill="#2ca02c"/>
<circle cx="354.45" cy="44.30" r="4" fill="#2ca02c"/>
<circle cx="354.45" cy="44.30" r="4" fill="#2ca02c"/>
<circle cx="354.45" cy="44.30" r="4" fill="#2ca02c"/>
<circle cx="354.45" cy="44.30" r="4" fill="#2ca02c"/>
<circle cx="354.45" cy="44.30" r="4" fill="#2ca02c"/>
<circle cx="354.45" cy="44.30" r="4" fill="#2ca02c"/>
<circle cx="354.45" cy="44.30" r="4" fill="#2ca02c"/>
<circle cx="354.45" cy="44.30" r="4" fill="#2ca02c"/>
<circle cx="354.45" cy="44.30" r="4" fill="#2ca02c"/>
<circle cx="354.45" cy="44.30" r="4" fill="#2ca02c"/>
<circle cx="354.45" cy="44.30" r="4" fill="#2ca02c"/>
<circle cx="354.45" cy="55.30" r="4" fill="#2ca02c"/>
<circle cx="354.45" cy="44.30" r="4" fill="#2ca02c"/>
<circle cx="354.45" cy="44.30" r="4" fill="#2ca02c"/>
<circle cx="354.45" cy="44.30" r="4" fill="#2ca02c"/>
<circle cx="354.45" cy="44.30" r="4" fill="#2ca02c"/>
<circle cx="354.45" cy="44.30" r="4" fill="#2ca02c"/>
<circle cx="354.45" cy="44.30" r="4" fill="#2ca02c"/>
<circle cx="354.45" cy="44.30" r="4" fill="#2ca02c"/>
<circle cx="354.45" cy="47.05" r="4" fill="#2ca02c"/>
<circle cx="354.45" cy="44.30" r="4" fill="#2ca02c"/>
<circle cx="354.45" cy="44.30" r="4" fill="#2ca02c"/>
<circle cx="354.45" cy="74.55" r="4" fill="#2ca02c"/>
<circle cx="354.45" cy="66.30" r="4" fill="#2ca02c"/>
<circle cx="354.45" cy="44.30" r="4" fill="#2ca02c"/>
<circle cx="354.45" cy="44.30" r="4" fill="#2ca02c"/>
<circle cx="354.45" cy="60.53" r="4" fill="#2ca02c"/>
<circle cx="354.45" cy="44.30" r="4" fill="#2ca02c"/>
<circle cx="354.45" cy="44.30" r="4" fill="#2ca02c"/>
<circle cx="354.45" cy="44.30" r="4" fill="#2ca02c"/>
<circle cx="354.45" cy="44.30" r="4" fill="#2ca02c"/>
<circle cx="354.45" cy="44.30" r="4" fill="#2ca02c"/>
<circle cx="354.45" cy="44.30" r="4" fill="#2ca02c"/>
<circle cx="354.45" cy="71.80" r="4" fill="#2ca02c"/>
<circle cx="354.45" cy="44.30" r="4" fill="#2ca02c"/>
<circle cx="354.45" cy="63.82" r="4" fill="#2ca02c"/>
<circle cx="354.45" cy="44.30" r="4" fill="#2ca02c"/>
<circle cx="354.45" cy="44.30" r="4" fill="#2ca02c"/>
<circle cx="354.45" cy="44.30" r="4" fill="#2ca02c"/>
<circle cx="354.45" cy="44.30" r="4" fill="#2ca02c"/>
<circle cx="354.45" cy="44.30" r="4" fill="#2ca02c"/>
<circle cx="354.45" cy="44.30" r="4" fill="#2ca02c"/>
<circle cx="354.45" cy="44.30" r="4" fill="#2ca02c"/>
<circle cx="354.45" cy="44.30" r="4" fill="#2ca02c"/>
<circle cx="354.45" cy="58.05" r="4" fill="#2ca02c"/>
<circle cx="354.45" cy="44.30" r="4" fill="#2ca02c"/>
<circle cx="354.45" cy="44.30" r="4" fill="#2ca02c"/>
<circle cx="354.45" cy="44.30" r="4" fill="#2ca02c"/>
<circle cx="354.45" cy="44.30" r="4" fill="#2ca02c"/>
<circle cx="354.45" cy="44.30" r="4" fill="#2ca02c"/>
<circle cx="354.45" cy="44.30" r="4" fill="#2ca02c"/>
<circle cx="354.45" cy="50.07" r="4" fill="#2ca02c"/>
<circle cx="354.45" cy="44.30" r="4" fill="#2ca02c"/>
<circle cx="354.45" cy="44.30" r="4" fill="#2ca02c"/>
<circle cx="354.45" cy="44.30" r="4" fill="#2ca02c"/>
<circle cx="354.45" cy="44.30" r="4" fill="#2ca02c"/>
<circle cx="354.45" cy="44.30" r="4" fill="#2ca02c"/>
<circle cx="354.45" cy="44.30" r="4" fill="#2ca02c"/>
<circle cx="354.45" cy="44.30" r="4" fill="#2ca02c"/>
<circle cx="354.45" cy="76.20" r="4" fill="#2ca02c"/>
<circle cx="354.45" cy="44.30" r="4" fill="#2ca02c"/>
<circle cx="354.45" cy="44.30" r="4" fill="#2ca02c"/>
<circle cx="354.45" cy="44.30" r="4" fill="#2ca02c"/>
<circle cx="354.45" cy="44.30" r="4" fill="#2ca02c"/>
<circle cx="354.45" cy="44.30" r="4" fill="#2ca02c"/>
<circle cx="354.45" cy="52.55" r="4" fill="#2ca02c"/>
<circle cx="354.45" cy="44.30" r="4" fill="#2ca02c"/>
<circle cx="354.45" cy="44.30" r="4" fill="#2ca02c"/>
<circle cx="354.45" cy="44.30" r="4" fill="#2ca02c"/>
<circle cx="354.45" cy="67.12" r="4" fill="#2ca02c"/>
<circle cx="354.45" cy="44.30" r="4" fill="#2ca02c"/>
<circle cx="354.45" cy="44.30" r="4" fill="#2ca02c"/>
<circle cx="354.45" cy="44.30" r="4" fill="#2ca02c"/>
<circle cx="354.45" cy="44.30" r="4" fill="#2ca02c"/>
<circle cx="354.45" cy="44.30" r="4" fill="#2ca02c"/>
<circle cx="354.45" cy="44.30" r="4" fill="#2ca02c"/>
<circle cx="354.45" cy="44.30" r="4" fill="#2ca02c"/>
<circle cx="354.45" cy="44.30" r="4" fill="#2ca02c"/>
<circle cx="354.45" cy="69.60" r="4" fill="#2ca02c"/>
<circle cx="354.45" cy="44.30" r="4" fill="#2ca02c"/>
<circle cx="354.45" cy="44.30" r="4" fill="#2ca02c"/>
<circle cx="354.45" cy="44.30" r="4" fill="#2ca02c"/>
<circle cx="354.45" cy="59.70" r="4" fill="#2ca02c"/>
<circle cx="354.45" cy="44.30" r="4" fill="#2ca02c"/>
<circle cx="354.45" cy="44.30" r="4" fill="#2ca02c"/>
<circle cx="354.45" cy="63.55" r="4" fill="#2ca02c"/>
<circle cx="354.45" cy="44.30" r="4" fill="#2ca02c"/>
<circle cx="354.45" cy="44.30" r="4" fill="#2ca02c"/>
<circle cx="354.45" cy="44.30" r="4" fill="#2ca02c"/>
<circle cx="354.45" cy="44.30" r="4" fill="#2ca02c"/>
<circle cx="354.45" cy="76.48" r="4" fill="#2ca02c"/>
<circle cx="354.45" cy="44.30" r="4" fill="#2ca02c"/>
<circle cx="354.45" cy="44.30" r="4" fill="#2ca02c"/>
<circle cx="354.45" cy="47.05" r="4" fill="#2ca02c"/>
<circle cx="354.45" cy="49.80" r="4" fill="#2ca02c"/>
<circle cx="354.45" cy="44.30" r="4" fill="#2ca02c"/>
<circle cx="354.45" cy="44.30" r="4" fill="#2ca02c"/>
<circle cx="354.45" cy="47.05" r="4" fill="#2ca02c"/>
<circle cx="354.45" cy="44.30" r="4" fill="#2ca02c"/>
<circle cx="354.45" cy="49.80" r="4" fill="#2ca02c"/>
<circle cx="354.45" cy="44.30" r="4" fill="#2ca02c"/>
<circle cx="354.45" cy="44.30" r="4" fill="#2ca02c"/>
<circle cx="354.45" cy="44.30" r="4" fill="#2ca02c"/>
<circle cx="354.45" cy="52.55" r="4" fill="#2ca02c"/>
<circle cx="354.45" cy="44.30" r="4" fill="#2ca02c"/>
<circle cx="354.45" cy="47.05" r="4" fill="#2ca02c"/>
<circle cx="354.45" cy="99.30" r="4" fill="#2ca02c"/>
<circle cx="354.45" cy="102.05" r="4" fill="#2ca02c"/>
<circle cx="354.45" cy="106.18" r="4" fill="#2ca02c"/>
<circle cx="354.45" cy="85.55" r="4" fill="#2ca02c"/>
<circle cx="354.45" cy="91.05" r="4" fill="#2ca02c"/>
<circle cx="354.45" cy="89.68" r="4" fill="#2ca02c"/>
<circle cx="354.45" cy="75.93" r="4" fill="#2ca02c"/>
<circle cx="354.45" cy="85.55" r="4" fill="#2ca02c"/>
<circle cx="354.45" cy="96.55" r="4" fill="#2ca02c"/>
<circle cx="354.45" cy="102.05" r="4" fill="#2ca02c"/>
<circle cx="354.45" cy="88.30" r="4" fill="#2ca02c"/>
<circle cx="354.45" cy="74.55" r="4" fill="#2ca02c"/>
<circle cx="354.45" cy="66.30" r="4" fill="#2ca02c"/>
<circle cx="354.45" cy="55.30" r="4" fill="#2ca02c"/>
<circle cx="354.45" cy="71.80" r="4" fill="#2ca02c"/>
<circle cx="354.45" cy="47.05" r="4" fill="#2ca02c"/>
<circle cx="354.45" cy="44.30" r="4" fill="#2ca02c"/>
<circle cx="354.45" cy="66.30" r="4" fill="#2ca02c"/>
<circle cx="354.45" cy="50.90" r="4" fill="#2ca02c"/>
<circle cx="354.45" cy="66.30" r="4" fill="#2ca02c"/>
<circle cx="354.45" cy="60.80" r="4" fill="#2ca02c"/>
<circle cx="354.45" cy="44.30" r="4" fill="#2ca02c"/>
<circle cx="354.45" cy="44.30" r="4" fill="#2ca02c"/>
<circle cx="354.45" cy="44.30" r="4" fill="#2ca02c"/>
<circle cx="354.45" cy="71.80" r="4" fill="#2ca02c"/>
<circle cx="354.45" cy="60.80" r="4" fill="#2ca02c"/>
<circle cx="354.45" cy="47.05" r="4" fill="#2ca02c"/>
<circle cx="354.45" cy="50.90" r="4" fill="#2ca02c"/>
<circle cx="354.45" cy="50.90" r="4" fill="#2ca02c"/>
<circle cx="354.45" cy="44.30" r="4" fill="#2ca02c"/>
<circle cx="354.45" cy="66.30" r="4" fill="#2ca02c"/>
<circle cx="354.45" cy="66.30" r="4" fill="#2ca02c"/>
<circle cx="354.45" cy="66.30" r="4" fill="#2ca02c"/>
<circle cx="354.45" cy="66.30" r="4" fill="#2ca02c"/>
<circle cx="354.45" cy="124.60" r="4" fill="#2ca02c"/>
<circle cx="354.45" cy="104.80" r="4" fill="#2ca02c"/>
<circle cx="354.45" cy="102.05" r="4" fill="#2ca02c"/>
<circle cx="354.45" cy="99.30" r="4" fill="#2ca02c"/>
<circle cx="354.45" cy="93.80" r="4" fill="#2ca02c"/>
<circle cx="354.45" cy="88.30" r="4" fill="#2ca02c"/>
<circle cx="354.45" cy="85.55" r="4" fill="#2ca02c"/>
<circle cx="354.45" cy="74.55" r="4" fill="#2ca02c"/>
<circle cx="354.45" cy="71.80" r="4" fill="#2ca02c"/>
<circle cx="354.45" cy="66.30" r="4" fill="#2ca02c"/>
<circle cx="354.45" cy="60.80" r="4" fill="#2ca02c"/>
<circle cx="354.45" cy="55.30" r="4" fill="#2ca02c"/>
<circle cx="354.45" cy="49.80" r="4" fill="#2ca02c"/>
<circle cx="354.45" cy="44.30" r="4" fill="#2ca02c"/>
<circle cx="354.45" cy="44.30" r="4" fill="#2ca02c"/>
<circle cx="354.45" cy="45.68" r="4" fill="#2ca02c"/>
</g>
<g stroke="#262626" stroke-width="1.1" fill="none">
<line x1="45.45" y1="16.7" x2="45.45" y2="319.85"/>
<line x1="44.9" y1="319.3" x2="369.1" y2="319.3"/>
<line x1="41.9" y1="319.30" x2="45.45" y2="319.30"/>
<line x1="41.9" y1="264.30" x2="45.45" y2="264.30"/>
<line x1="41.9" y1="209.30" x2="45.45" y2="209.30"/>
<line x1="41.9" y1="154.30" x2="45.45" y2="154.30"/>
<line x1="41.9" y1="99.30" x2="45.45" y2="99.30"/>
<line x1="41.9" y1="44.30" x2="45.45" y2="44.30"/>
<line x1="60.35" y1="319.3" x2="60.35" y2="322.9"/>
<line x1="207.40" y1="319.3" x2="207.40" y2="322.9"/>
<line x1="354.45" y1="319.3" x2="354.45" y2="322.9"/>
</g>
<g stroke="#1a1a1a" stroke-width="1.3" fill="none">
<line x1="69.8" y1="30.8" x2="196.5" y2="30.8"/><polyline points="191.6,28.2 196.9,30.8 191.6,33.4"/>
<line x1="216.1" y1="30.8" x2="343.6" y2="30.8"/><polyline points="338.8,28.2 344.1,30.8 338.8,33.4"/>
</g>
<g clip-path="url(#cr)">
<circle cx="441.78" cy="295.68" r="4" fill="#e59425"/>
<circle cx="441.19" cy="300.35" r="4" fill="#e59425"/>
<circle cx="440.89" cy="304.48" r="4" fill="#e59425"/>
<circle cx="447.95" cy="305.03" r="4" fill="#e59425"/>
<circle cx="457.65" cy="305.30" r="4" fill="#e59425"/>
<circle cx="487.93" cy="224.20" r="4" fill="#e59425"/>
<circle cx="503.22" cy="201.94" r="4" fill="#e59425"/>
<circle cx="539.97" cy="294.99" r="4" fill="#e59425"/>
<circle cx="602.89" cy="198.36" r="4" fill="#e59425"/>
<circle cx="602.89" cy="201.94" r="4" fill="#e59425"/>
<circle cx="602.89" cy="218.43" r="4" fill="#e59425"/>
<circle cx="602.89" cy="230.80" r="4" fill="#e59425"/>
<circle cx="623.17" cy="180.50" r="4" fill="#e59425"/>
<circle cx="642.58" cy="110.95" r="4" fill="#e59425"/>
<circle cx="644.64" cy="112.87" r="4" fill="#e59425"/>
<circle cx="662.57" cy="83.73" r="4" fill="#e59425"/>
<circle cx="655.81" cy="85.93" r="4" fill="#e59425"/>
<circle cx="655.22" cy="90.88" r="4" fill="#e59425"/>
<circle cx="660.81" cy="93.63" r="4" fill="#e59425"/>
<circle cx="663.16" cy="87.58" r="4" fill="#e59425"/>
<circle cx="659.63" cy="88.68" r="4" fill="#e59425"/>
<circle cx="660.81" cy="46.62" r="4" fill="#e59425"/>
<circle cx="689.62" cy="73.01" r="4" fill="#e59425"/>
<circle cx="689.62" cy="76.86" r="4" fill="#e59425"/>
<circle cx="691.97" cy="89.23" r="4" fill="#e59425"/>
<circle cx="713.43" cy="76.03" r="4" fill="#e59425"/>
<circle cx="713.43" cy="78.51" r="4" fill="#e59425"/>
<circle cx="713.73" cy="47.31" r="4" fill="#e59425"/>
<circle cx="712.26" cy="53.77" r="4" fill="#e59425"/>
<circle cx="722.84" cy="47.17" r="4" fill="#e59425"/>
<circle cx="729.31" cy="52.12" r="4" fill="#e59425"/>
<circle cx="722.25" cy="54.32" r="4" fill="#e59425"/>
<circle cx="720.49" cy="61.74" r="4" fill="#e59425"/>
<circle cx="721.37" cy="57.89" r="4" fill="#e59425"/>
<circle cx="724.31" cy="49.64" r="4" fill="#e59425"/>
<circle cx="719.02" cy="63.39" r="4" fill="#e59425"/>
<circle cx="730.48" cy="30.95" r="4" fill="#e59425"/>
<circle cx="734.60" cy="30.95" r="4" fill="#e59425"/>
<circle cx="734.60" cy="37.00" r="4" fill="#e59425"/>
<circle cx="734.60" cy="41.12" r="4" fill="#e59425"/>
<circle cx="734.60" cy="33.15" r="4" fill="#e59425"/>
</g>
<g stroke="#6a6a6a" stroke-width="1.75" stroke-dasharray="5.8 2.75" fill="none">
<line x1="440.60" y1="250.32" x2="734.60" y2="250.32"/>
<line x1="440.60" y1="140.36" x2="734.60" y2="140.36"/>
<line x1="440.60" y1="30.40" x2="734.60" y2="30.40"/>
</g>
<text font-family="Liberation Sans, sans-serif" font-size="13" fill="#ff0000" stroke="#ff0000" stroke-width="0.25" font-weight="bold" transform="matrix(1.05240 0.00000 0.00000 1.02290 632.354 89.852)">a</text>
<text font-family="Liberation Sans, sans-serif" font-size="13" fill="#ff0000" stroke="#ff0000" stroke-width="0.25" font-weight="bold" transform="matrix(1.20342 0.00000 0.00000 1.02564 619.259 115.944)">b</text>
<text font-family="Liberation Sans, sans-serif" font-size="13" fill="#ff0000" stroke="#ff0000" stroke-width="0.25" font-weight="bold" transform="matrix(0.99831 0.00000 0.00000 1.02345 711.834 36.554)">c</text>
<text font-family="Liberation Sans, sans-serif" font-size="13" fill="#ff0000" stroke="#ff0000" stroke-width="0.25" font-weight="bold" transform="matrix(1.16557 0.00000 0.00000 0.93518 579.476 221.525)">d</text>
<text font-family="Liberation Sans, sans-serif" font-size="13" fill="#ff0000" stroke="#ff0000" stroke-width="0.25" font-weight="bold" transform="matrix(1.24260 0.00000 0.00000 1.02290 516.642 298.752)">e</text>
<text font-family="Liberation Sans, sans-serif" font-size="13" fill="#ff0000" stroke="#ff0000" stroke-width="0.25" font-weight="bold" transform="matrix(1.19993 0.00000 0.00000 1.00063 435.895 307.553)">f</text>
<ellipse cx="655.81" cy="86.20" rx="14.7" ry="13.75" fill="none" stroke="#ff0000" stroke-width="1.25"/>
<ellipse cx="642.87" cy="112.32" rx="14.7" ry="13.75" fill="none" stroke="#ff0000" stroke-width="1.25"/>
<ellipse cx="734.60" cy="33.15" rx="14.7" ry="13.75" fill="none" stroke="#ff0000" stroke-width="1.25"/>
<ellipse cx="602.89" cy="218.43" rx="14.7" ry="13.75" fill="none" stroke="#ff0000" stroke-width="1.25"/>
<ellipse cx="539.97" cy="294.99" rx="14.7" ry="13.75" fill="none" stroke="#ff0000" stroke-width="1.25"/>
<ellipse cx="457.65" cy="305.30" rx="14.7" ry="13.75" fill="none" stroke="#ff0000" stroke-width="1.25"/>
<line x1="440.60" y1="305.30" x2="734.60" y2="30.40" stroke="#707070" stroke-width="1.7"/>
<g stroke="#595959" stroke-width="1.5" fill="none">
<line x1="426.1" y1="16.7" x2="426.1" y2="319.95"/>
<line x1="425.35" y1="319.2" x2="749.3" y2="319.2"/>
<line x1="422.2" y1="305.30" x2="426.1" y2="305.30"/>
<line x1="440.60" y1="319.2" x2="440.60" y2="323.1"/>
<line x1="422.2" y1="250.32" x2="426.1" y2="250.32"/>
<line x1="499.40" y1="319.2" x2="499.40" y2="323.1"/>
<line x1="422.2" y1="195.34" x2="426.1" y2="195.34"/>
<line x1="558.20" y1="319.2" x2="558.20" y2="323.1"/>
<line x1="422.2" y1="140.36" x2="426.1" y2="140.36"/>
<line x1="617.00" y1="319.2" x2="617.00" y2="323.1"/>
<line x1="422.2" y1="85.38" x2="426.1" y2="85.38"/>
<line x1="675.80" y1="319.2" x2="675.80" y2="323.1"/>
<line x1="422.2" y1="30.40" x2="426.1" y2="30.40"/>
<line x1="734.60" y1="319.2" x2="734.60" y2="323.1"/>
</g>
<text font-family="Liberation Sans, sans-serif" font-size="14.5" fill="#000" stroke="#000" stroke-width="0.25" font-weight="bold" transform="matrix(1.34517 0.00000 0.00000 0.95563 29.121 11.934)">(a)</text>
<text font-family="Liberation Sans, sans-serif" font-size="14.5" fill="#000" stroke="#000" stroke-width="0.25" font-weight="bold" transform="matrix(1.32131 0.00000 0.00000 0.95563 409.798 11.934)">(b)</text>
<text font-family="Liberation Sans, sans-serif" font-size="13" fill="#000" stroke="#000" stroke-width="0.15" font-style="italic" transform="matrix(1.34884 0.00000 0.00000 1.00000 108.490 11.100)">blur &amp;</text>
<text font-family="Liberation Sans, sans-serif" font-size="13" fill="#000" stroke="#000" stroke-width="0.15" font-style="italic" transform="matrix(1.31395 0.00000 0.00000 1.07690 81.671 27.735)">downsampling</text>
<text font-family="Liberation Sans, sans-serif" font-size="15" fill="#1f77b4" stroke="#1f77b4" stroke-width="0.15" transform="matrix(0.97594 0.00000 0.00000 0.99044 49.710 33.876)">HR</text>
<text font-family="Liberation Sans, sans-serif" font-size="15" fill="#d62728" stroke="#d62728" stroke-width="0.15" transform="matrix(0.98178 0.00000 0.00000 0.99044 197.698 33.576)">LR</text>
<text font-family="Liberation Sans, sans-serif" font-size="15" fill="#2ca02c" stroke="#2ca02c" stroke-width="0.15" transform="matrix(0.96654 0.00000 0.00000 1.03767 344.074 34.768)">SR</text>
<text font-family="Liberation Sans, sans-serif" font-size="15" fill="#ff0000" stroke="#ff0000" stroke-width="0.25" font-weight="bold" font-style="italic" transform="matrix(1.06015 0.00000 0.00000 0.94437 232.146 18.840)">J-RESRGAN</text>
<text font-family="Liberation Sans, sans-serif" font-size="15" fill="#000" stroke="#000" stroke-width="0.15" transform="matrix(1.13590 0.00000 0.00000 1.06353 513.576 17.601)">Pearson r = 0.98</text>
<text font-family="Liberation Sans, sans-serif" font-size="17" fill="#000" stroke="#000" stroke-width="0.15" transform="matrix(1.11635 0.00000 0.00000 1.00000 162.200 359.100)">Resolution</text>
<text font-family="Liberation Sans, sans-serif" font-size="17" fill="#000" stroke="#000" stroke-width="0.15" transform="matrix(1.12053 0.00000 0.00000 1.00000 477.184 354.200)">Resolvability scores in HR</text>
<text font-family="Liberation Sans, sans-serif" font-size="15" fill="#000" stroke="#000" stroke-width="0.15" transform="matrix(1.01363 0.00000 0.00000 1.07298 49.643 338.849)">HR</text>
<text font-family="Liberation Sans, sans-serif" font-size="15" fill="#000" stroke="#000" stroke-width="0.15" transform="matrix(1.02584 0.00000 0.00000 1.07298 197.568 338.949)">LR</text>
<text font-family="Liberation Sans, sans-serif" font-size="15" fill="#000" stroke="#000" stroke-width="0.15" transform="matrix(0.98256 0.00000 0.00000 1.06679 344.067 338.867)">SR</text>
<text font-family="Liberation Sans, sans-serif" font-size="17" fill="#000" stroke="#000" stroke-width="0.15" transform="matrix(0.00000 -1.11918 1.00000 0.00000 12.900 249.144)">Resolvability Score</text>
<text font-family="Liberation Sans, sans-serif" font-size="17" fill="#000" stroke="#000" stroke-width="0.15" transform="matrix(0.00000 -1.10818 0.98319 0.00000 392.700 276.668)">Resolvability scores in SR</text>
<text font-family="Liberation Sans, sans-serif" font-size="11.5" fill="#000" stroke="#000" stroke-width="0.15" transform="matrix(1.04322 0.00000 0.00000 0.97525 21.194 322.551)">0.0</text>
<text font-family="Liberation Sans, sans-serif" font-size="11.5" fill="#000" stroke="#000" stroke-width="0.15" transform="matrix(1.04034 0.00000 0.00000 1.06000 401.739 309.740)">0.0</text>
<text font-family="Liberation Sans, sans-serif" font-size="11.5" fill="#000" stroke="#000" stroke-width="0.15" transform="matrix(1.02024 0.00000 0.00000 0.98212 432.351 334.778)">0.0</text>
<text font-family="Liberation Sans, sans-serif" font-size="11.5" fill="#000" stroke="#000" stroke-width="0.15" transform="matrix(1.04305 0.00000 0.00000 0.97525 21.175 267.551)">0.2</text>
<text font-family="Liberation Sans, sans-serif" font-size="11.5" fill="#000" stroke="#000" stroke-width="0.15" transform="matrix(1.06839 0.00000 0.00000 0.94000 401.722 253.780)">0.2</text>
<text font-family="Liberation Sans, sans-serif" font-size="11.5" fill="#000" stroke="#000" stroke-width="0.15" transform="matrix(1.03013 0.00000 0.00000 1.01250 491.151 334.900)">0.2</text>
<text font-family="Liberation Sans, sans-serif" font-size="11.5" fill="#000" stroke="#000" stroke-width="0.15" transform="matrix(1.02926 0.00000 0.00000 0.97525 21.202 212.551)">0.4</text>
<text font-family="Liberation Sans, sans-serif" font-size="11.5" fill="#000" stroke="#000" stroke-width="0.15" transform="matrix(1.03309 0.00000 0.00000 1.06000 401.769 199.780)">0.4</text>
<text font-family="Liberation Sans, sans-serif" font-size="11.5" fill="#000" stroke="#000" stroke-width="0.15" transform="matrix(1.02122 0.00000 0.00000 0.98212 549.790 334.778)">0.4</text>
<text font-family="Liberation Sans, sans-serif" font-size="11.5" fill="#000" stroke="#000" stroke-width="0.15" transform="matrix(1.04201 0.00000 0.00000 0.97525 21.179 157.551)">0.6</text>
<text font-family="Liberation Sans, sans-serif" font-size="11.5" fill="#000" stroke="#000" stroke-width="0.15" transform="matrix(1.05677 0.00000 0.00000 1.06000 401.740 144.800)">0.6</text>
<text font-family="Liberation Sans, sans-serif" font-size="11.5" fill="#000" stroke="#000" stroke-width="0.15" transform="matrix(1.03195 0.00000 0.00000 1.01250 608.765 334.900)">0.6</text>
<text font-family="Liberation Sans, sans-serif" font-size="11.5" fill="#000" stroke="#000" stroke-width="0.15" transform="matrix(1.04022 0.00000 0.00000 1.00637 21.176 102.676)">0.8</text>
<text font-family="Liberation Sans, sans-serif" font-size="11.5" fill="#000" stroke="#000" stroke-width="0.15" transform="matrix(1.05517 0.00000 0.00000 1.03000 401.733 89.700)">0.8</text>
<text font-family="Liberation Sans, sans-serif" font-size="11.5" fill="#000" stroke="#000" stroke-width="0.15" transform="matrix(1.02124 0.00000 0.00000 0.95175 667.562 334.657)">0.8</text>
<text font-family="Liberation Sans, sans-serif" font-size="11.5" fill="#000" stroke="#000" stroke-width="0.15" transform="matrix(1.06194 0.00000 0.00000 0.97525 20.882 47.551)">1.0</text>
<text font-family="Liberation Sans, sans-serif" font-size="11.5" fill="#000" stroke="#000" stroke-width="0.15" transform="matrix(1.06845 0.00000 0.00000 0.94000 401.272 34.860)">1.0</text>
<text font-family="Liberation Sans, sans-serif" font-size="11.5" fill="#000" stroke="#000" stroke-width="0.15" transform="matrix(1.05718 0.00000 0.00000 0.95175 725.798 334.657)">1.0</text>
</svg></body></html>
